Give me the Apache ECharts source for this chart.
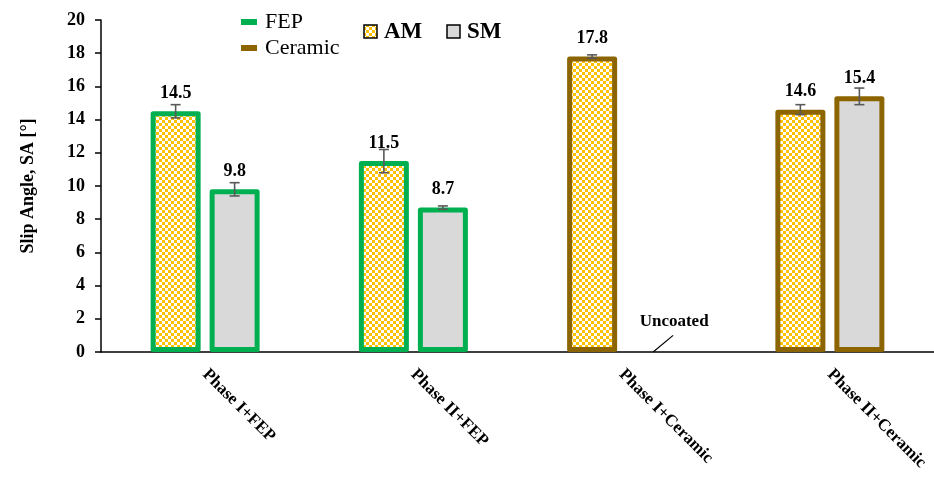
<!DOCTYPE html>
<html>
<head>
<meta charset="utf-8">
<script src="https://cdn.jsdelivr.net/npm/echarts@6/dist/echarts.min.js"></script>
<style>
  html, body { margin: 0; padding: 0; background: #fff; }
  #chart { width: 934px; height: 478px; }
</style>
</head>
<body>
<div id="chart"></div>
<script>
// Slip angle per coating / phase, AM vs SM specimens
const categories = ['Phase I+FEP', 'Phase II+FEP', 'Phase I+Ceramic', 'Phase II+Ceramic'];
const coating = ['FEP', 'FEP', 'Ceramic', 'Ceramic'];
const amValues = [14.5, 11.5, 17.8, 14.6];
const smValues = [9.8, 8.7, null, 15.4];
const amErrors = [0.4, 0.7, 0.1, 0.3];
const smErrors = [0.4, 0.1, null, 0.5];
const yTicks = { min: 0, max: 20, step: 2 };

const FONT = '"Liberation Serif", "DejaVu Serif", serif';
const coatColor = { FEP: '#00B050', Ceramic: '#8C6400' };
const BAR_W = 50;
const BAR_GAP = 9;
const HALF = (BAR_W + BAR_GAP) / 2;

// yellow / white checker fill for AM bars
function checker() {
  const c = document.createElement('canvas');
  c.width = 6; c.height = 6;
  const g = c.getContext('2d');
  g.fillStyle = '#ffffff'; g.fillRect(0, 0, 6, 6);
  g.fillStyle = '#FFC000';
  g.fillRect(0, 0, 3, 3); g.fillRect(3, 3, 3, 3);
  return c;
}
const amFill = { image: checker(), repeat: 'repeat' };

function barData(vals, fill) {
  return vals.map((v, i) => ({
    value: v,
    itemStyle: { color: fill, borderColor: coatColor[coating[i]] }
  }));
}

function errorSeries(vals, errs, shift) {
  const data = vals.map((v, i) => v == null ? null : [i, v, errs[i]]).filter(d => d);
  return {
    type: 'custom',
    z: 5,
    silent: true,
    data: data,
    encode: { x: 0, y: 1 },
    renderItem: function (params, api) {
      const i = api.value(0), v = api.value(1), e = api.value(2);
      const hi = api.coord([i, v + e]);
      const lo = api.coord([i, v - e]);
      const x = hi[0] + shift;
      const cap = 5;
      const st = { stroke: '#595959', lineWidth: 1.6 };
      return {
        type: 'group',
        children: [
          { type: 'line', shape: { x1: x, y1: hi[1], x2: x, y2: lo[1] }, style: st },
          { type: 'line', shape: { x1: x - cap, y1: hi[1], x2: x + cap, y2: hi[1] }, style: st },
          { type: 'line', shape: { x1: x - cap, y1: lo[1], x2: x + cap, y2: lo[1] }, style: st }
        ]
      };
    }
  };
}

const chart = echarts.init(document.getElementById('chart'), null, { renderer: 'canvas' });

const valueLabel = {
  show: true, position: 'top', distance: 9,
  fontFamily: FONT, fontWeight: 'bold', fontSize: 18, color: '#000',
  formatter: p => p.value == null ? '' : p.value.toFixed(1)
};

chart.setOption({
  animation: false,
  backgroundColor: '#fff',
  grid: { left: 101, right: 0, top: 20, bottom: 126, containLabel: false },
  xAxis: {
    type: 'category',
    data: categories,
    axisLine: { lineStyle: { color: '#000', width: 1.5 } },
    axisTick: { show: false },
    axisLabel: {
      rotate: -45, margin: 20, interval: 0,
      fontFamily: FONT, fontWeight: 'bold', fontSize: 17, color: '#000'
    }
  },
  yAxis: {
    type: 'value',
    min: yTicks.min, max: yTicks.max, interval: yTicks.step,
    name: 'Slip Angle, SA [°]',
    nameLocation: 'middle',
    nameGap: 64,
    nameTextStyle: { fontFamily: FONT, fontWeight: 'bold', fontSize: 18, color: '#000' },
    axisLine: { show: true, lineStyle: { color: '#000', width: 1.5 } },
    axisTick: { show: true, length: 6, lineStyle: { color: '#000', width: 1.5 } },
    splitLine: { show: false },
    axisLabel: { margin: 16, fontFamily: FONT, fontWeight: 'bold', fontSize: 18, color: '#000' }
  },
  series: [
    {
      name: 'AM', type: 'bar', barWidth: BAR_W, barGap: (BAR_GAP / BAR_W * 100) + '%',
      itemStyle: { borderWidth: 5, borderJoin: 'round' },
      label: valueLabel,
      data: barData(amValues, amFill)
    },
    {
      name: 'SM', type: 'bar', barWidth: BAR_W,
      itemStyle: { borderWidth: 5, borderJoin: 'round' },
      label: valueLabel,
      data: barData(smValues, '#D9D9D9')
    },
    errorSeries(amValues, amErrors, -HALF),
    errorSeries(smValues, smErrors, HALF)
  ]
});

// legend and the "Uncoated" note
const uncX = chart.convertToPixel({ xAxisIndex: 0 }, 2) + HALF;
const y0 = chart.convertToPixel({ yAxisIndex: 0 }, 0);
const y1 = chart.convertToPixel({ yAxisIndex: 0 }, 1);

chart.setOption({
  graphic: [
    { type: 'rect', shape: { x: 241, y: 19, width: 16, height: 6 }, style: { fill: coatColor.FEP } },
    { type: 'text', x: 265, y: 22, style: { text: 'FEP', font: '22px ' + FONT, fill: '#000', verticalAlign: 'middle' } },
    { type: 'rect', shape: { x: 241, y: 45, width: 16, height: 6 }, style: { fill: coatColor.Ceramic } },
    { type: 'text', x: 265, y: 48, style: { text: 'Ceramic', font: '22px ' + FONT, fill: '#000', verticalAlign: 'middle' } },
    { type: 'rect', shape: { x: 364, y: 25, width: 13, height: 13 }, style: { fill: amFill, stroke: '#000', lineWidth: 1.5 } },
    { type: 'text', x: 384, y: 32, style: { text: 'AM', font: 'bold 23px ' + FONT, fill: '#000', verticalAlign: 'middle' } },
    { type: 'rect', shape: { x: 447, y: 25, width: 13, height: 13 }, style: { fill: '#D9D9D9', stroke: '#000', lineWidth: 1.5 } },
    { type: 'text', x: 467, y: 32, style: { text: 'SM', font: 'bold 23px ' + FONT, fill: '#000', verticalAlign: 'middle' } },
    { type: 'line', shape: { x1: uncX + 2, y1: y0, x2: uncX + 22, y2: y1 }, style: { stroke: '#000', lineWidth: 1.2 } },
    { type: 'text', x: uncX + 23, y: y1 - 14, style: { text: 'Uncoated', font: 'bold 17px ' + FONT, fill: '#000', align: 'center', verticalAlign: 'middle' } }
  ]
});
</script>
</body>
</html>
